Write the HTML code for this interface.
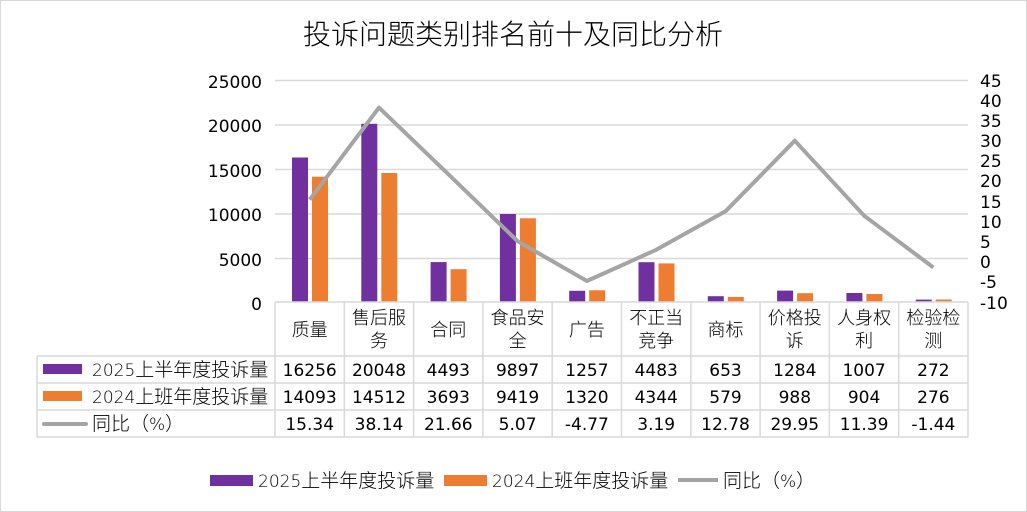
<!DOCTYPE html>
<html><head><meta charset="utf-8"><style>
html,body{margin:0;padding:0;background:#fff;}
svg{display:block;}
text{font-family:"DejaVu Sans","Liberation Sans","Noto Sans CJK SC",sans-serif;fill:#000;}
</style></head><body>
<svg width="1027" height="512" viewBox="0 0 1027 512" xmlns="http://www.w3.org/2000/svg">
<rect x="0.5" y="0.5" width="1026" height="511" fill="#fff" stroke="#d9d9d9"/>
<text x="513" y="44" font-size="28" text-anchor="middle" font-family="Noto Sans CJK SC,sans-serif" font-weight="300">投诉问题类别排名前十及同比分析</text>
<g stroke="#d9d9d9" stroke-width="1.5">
<line x1="275" y1="80.5" x2="968" y2="80.5"/>
<line x1="275" y1="125" x2="968" y2="125"/>
<line x1="275" y1="169.5" x2="968" y2="169.5"/>
<line x1="275" y1="214" x2="968" y2="214"/>
<line x1="275" y1="258.5" x2="968" y2="258.5"/>
</g>
<g font-size="17" text-anchor="end">
<text x="262" y="88">25000</text><text x="262" y="132">20000</text><text x="262" y="177">15000</text>
<text x="262" y="221">10000</text><text x="262" y="266">5000</text><text x="262" y="310">0</text>
</g>
<g font-size="17">
<text x="980" y="87">45</text><text x="980" y="107">40</text><text x="980" y="127">35</text><text x="980" y="147">30</text>
<text x="980" y="167">25</text><text x="980" y="187">20</text><text x="980" y="208">15</text><text x="980" y="228">10</text>
<text x="980" y="248">5</text><text x="980" y="268">0</text><text x="980" y="288">-5</text><text x="980" y="309">-10</text>
</g>
<g>
<rect x="292" y="157.5" width="16" height="144.5" fill="#7030a0"/><rect x="312" y="176.7" width="16" height="125.3" fill="#ed7d31"/>
<rect x="361.3" y="123.8" width="16" height="178.2" fill="#7030a0"/><rect x="381.3" y="173" width="16" height="129" fill="#ed7d31"/>
<rect x="430.6" y="262.1" width="16" height="39.9" fill="#7030a0"/><rect x="450.6" y="269.2" width="16" height="32.8" fill="#ed7d31"/>
<rect x="499.9" y="214" width="16" height="88" fill="#7030a0"/><rect x="519.9" y="218.3" width="16" height="83.7" fill="#ed7d31"/>
<rect x="569.2" y="290.8" width="16" height="11.2" fill="#7030a0"/><rect x="589.2" y="290.3" width="16" height="11.7" fill="#ed7d31"/>
<rect x="638.5" y="262.2" width="16" height="39.8" fill="#7030a0"/><rect x="658.5" y="263.4" width="16" height="38.6" fill="#ed7d31"/>
<rect x="707.8" y="296.2" width="16" height="5.8" fill="#7030a0"/><rect x="727.8" y="296.9" width="16" height="5.1" fill="#ed7d31"/>
<rect x="777.1" y="290.6" width="16" height="11.4" fill="#7030a0"/><rect x="797.1" y="293.2" width="16" height="8.8" fill="#ed7d31"/>
<rect x="846.4" y="293" width="16" height="9" fill="#7030a0"/><rect x="866.4" y="294" width="16" height="8" fill="#ed7d31"/>
<rect x="915.7" y="299.6" width="16" height="2.4" fill="#7030a0"/><rect x="935.7" y="299.5" width="16" height="2.5" fill="#ed7d31"/>
</g>
<polyline fill="none" stroke="#a5a5a5" stroke-width="4" stroke-linejoin="round" points="309.7,199.7 379,107.6 448.3,174.2 517.6,241.2 586.9,281.0 656.2,249.8 725.5,211.3 794.8,140.7 864.1,215.7 933.4,267.5"/>
<g stroke="#d9d9d9" stroke-width="1.5" fill="none">
<line x1="275" y1="302" x2="968" y2="302"/>
<line x1="37" y1="356" x2="968" y2="356"/>
<line x1="37" y1="383" x2="968" y2="383"/>
<line x1="37" y1="410" x2="968" y2="410"/>
<line x1="37" y1="437" x2="968" y2="437"/>
<line x1="37" y1="356" x2="37" y2="437"/>
<line x1="275" y1="302" x2="275" y2="437"/>
<line x1="344.3" y1="302" x2="344.3" y2="437"/><line x1="413.6" y1="302" x2="413.6" y2="437"/>
<line x1="482.9" y1="302" x2="482.9" y2="437"/><line x1="552.2" y1="302" x2="552.2" y2="437"/>
<line x1="621.5" y1="302" x2="621.5" y2="437"/><line x1="690.8" y1="302" x2="690.8" y2="437"/>
<line x1="760.1" y1="302" x2="760.1" y2="437"/><line x1="829.4" y1="302" x2="829.4" y2="437"/>
<line x1="898.7" y1="302" x2="898.7" y2="437"/><line x1="968" y1="302" x2="968" y2="437"/>
</g>
<g font-size="18" text-anchor="middle" font-family="Noto Sans CJK SC,sans-serif" font-weight="300">
<text x="309.7" y="336">质量</text>
<text x="379" y="324">售后服</text><text x="379" y="347">务</text>
<text x="448.3" y="336">合同</text>
<text x="517.6" y="324">食品安</text><text x="517.6" y="347">全</text>
<text x="586.9" y="336">广告</text>
<text x="656.2" y="324">不正当</text><text x="656.2" y="347">竞争</text>
<text x="725.5" y="336">商标</text>
<text x="794.8" y="324">价格投</text><text x="794.8" y="347">诉</text>
<text x="864.1" y="324">人身权</text><text x="864.1" y="347">利</text>
<text x="933.4" y="324">检验检</text><text x="933.4" y="347">测</text>
</g>
<g font-size="17" text-anchor="middle">
<text x="309.7" y="376">16256</text><text x="379" y="376">20048</text><text x="448.3" y="376">4493</text><text x="517.6" y="376">9897</text><text x="586.9" y="376">1257</text><text x="656.2" y="376">4483</text><text x="725.5" y="376">653</text><text x="794.8" y="376">1284</text><text x="864.1" y="376">1007</text><text x="933.4" y="376">272</text>
<text x="309.7" y="403">14093</text><text x="379" y="403">14512</text><text x="448.3" y="403">3693</text><text x="517.6" y="403">9419</text><text x="586.9" y="403">1320</text><text x="656.2" y="403">4344</text><text x="725.5" y="403">579</text><text x="794.8" y="403">988</text><text x="864.1" y="403">904</text><text x="933.4" y="403">276</text>
<text x="309.7" y="430">15.34</text><text x="379" y="430">38.14</text><text x="448.3" y="430">21.66</text><text x="517.6" y="430">5.07</text><text x="586.9" y="430">-4.77</text><text x="656.2" y="430">3.19</text><text x="725.5" y="430">12.78</text><text x="794.8" y="430">29.95</text><text x="864.1" y="430">11.39</text><text x="933.4" y="430">-1.44</text>
</g>
<rect x="43" y="364" width="39" height="10" fill="#7030a0"/>
<rect x="43" y="391" width="39" height="10" fill="#ed7d31"/>
<line x1="44" y1="424" x2="86" y2="424" stroke="#a5a5a5" stroke-width="4" stroke-linecap="round"/>
<g font-size="19" font-family="Noto Sans CJK SC,sans-serif" font-weight="300">
<text x="92" y="376"><tspan font-family="DejaVu Sans" font-size="17">2025</tspan>上半年度投诉量</text>
<text x="92" y="403"><tspan font-family="DejaVu Sans" font-size="17">2024</tspan>上班年度投诉量</text>
<text x="92" y="430">同比（<tspan font-family="DejaVu Sans" font-size="17">%</tspan>）</text>
</g>
<rect x="210" y="475" width="43" height="11" fill="#7030a0"/>
<rect x="444" y="475" width="43" height="11" fill="#ed7d31"/>
<line x1="678" y1="480" x2="718" y2="480" stroke="#a5a5a5" stroke-width="4"/>
<g font-size="19" font-family="Noto Sans CJK SC,sans-serif" font-weight="300">
<text x="258" y="487"><tspan font-family="DejaVu Sans" font-size="17">2025</tspan>上半年度投诉量</text>
<text x="492" y="487"><tspan font-family="DejaVu Sans" font-size="17">2024</tspan>上班年度投诉量</text>
<text x="723" y="487">同比（<tspan font-family="DejaVu Sans" font-size="17">%</tspan>）</text>
</g>
</svg>
</body></html>
